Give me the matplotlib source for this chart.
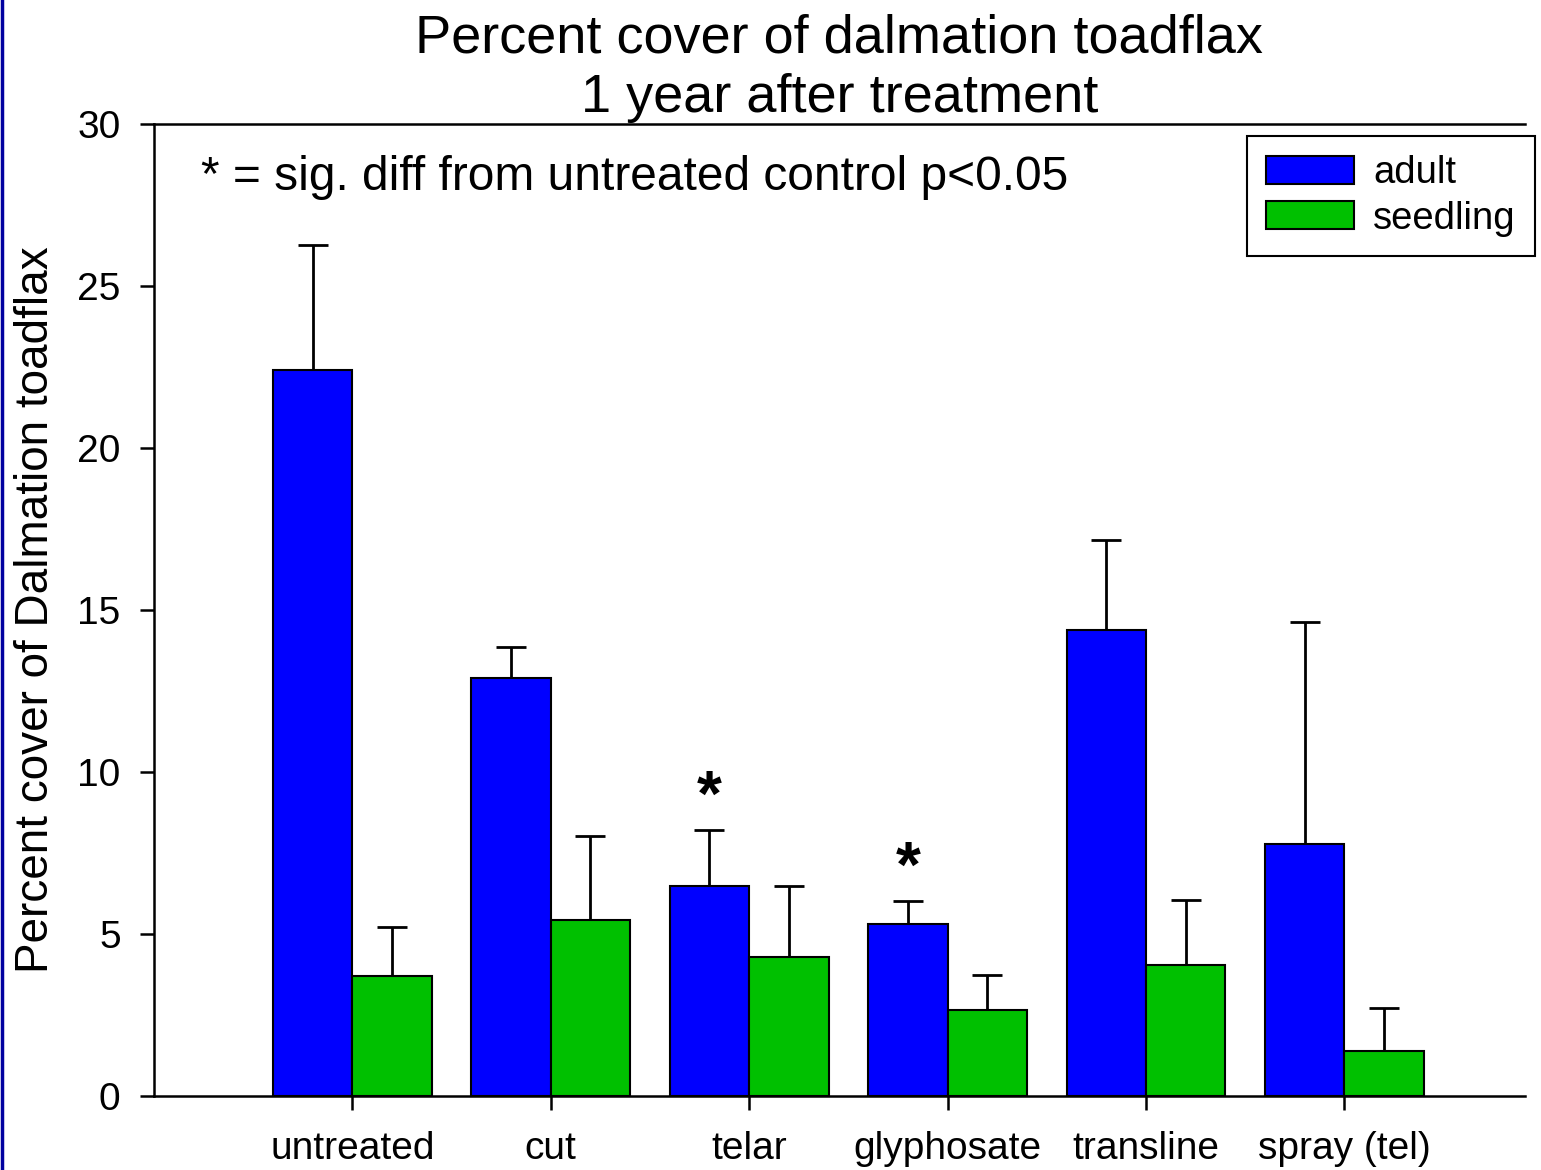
import numpy as np
import matplotlib
matplotlib.use("Agg")
import matplotlib.pyplot as plt
from matplotlib.lines import Line2D

plt.rcParams['font.family'] = ['Liberation Sans', 'DejaVu Sans']

treatments = ["untreated", "cut", "telar", "glyphosate", "transline", "spray (tel)"]
adult = [22.4, 12.9, 6.48, 5.31, 14.38, 7.78]
adult_err = [3.86, 0.95, 1.73, 0.71, 2.78, 6.85]
seedling = [3.70, 5.43, 4.29, 2.65, 4.04, 1.39]
seedling_err = [1.52, 2.59, 2.19, 1.08, 2.01, 1.33]
sig = ["telar", "glyphosate"]

fig = plt.figure(figsize=(15.41, 11.70), dpi=100)
ax = fig.add_axes([0.0999, 0.0632, 0.8897, 0.8308])

x = np.arange(len(treatments))
w = 0.4
ax.bar(x - w/2, adult, w, color='#0000ff', edgecolor='black', linewidth=1.5,
       label='adult', zorder=2)
ax.bar(x + w/2, seedling, w, color='#00c000', edgecolor='black', linewidth=1.5,
       label='seedling', zorder=2)
# upper error bars only
ax.errorbar(x - w/2, adult, yerr=[np.zeros(len(adult)), adult_err], fmt='none',
            ecolor='black', elinewidth=2, capsize=11, capthick=2, zorder=1)
ax.errorbar(x + w/2, seedling, yerr=[np.zeros(len(seedling)), seedling_err], fmt='none',
            ecolor='black', elinewidth=2, capsize=11, capthick=2, zorder=1)

for name in sig:
    i = treatments.index(name)
    ax.text(i - w/2, adult[i] + adult_err[i] + 0.95, '*', ha='center', va='center',
            fontsize=46, fontweight='bold')

ax.set_xlim(-1.0, 5.91)
ax.set_ylim(0, 30)
ax.set_yticks([0, 5, 10, 15, 20, 25, 30])
ax.set_xticks(x)
ax.set_xticklabels(treatments)
ax.tick_params(axis='y', labelsize=28, length=10, width=1.8, pad=14)
ax.tick_params(axis='x', labelsize=28, length=10, width=1.8, pad=15)
ax.spines['right'].set_visible(False)
for s in ['left', 'bottom', 'top']:
    ax.spines[s].set_linewidth(1.8)

ax.set_ylabel('Percent cover of Dalmation toadflax', fontsize=33, labelpad=14)
ax.set_title('Percent cover of dalmation toadflax\n1 year after treatment',
             fontsize=39, linespacing=1.24, pad=9, x=0.5)

ax.text(0.034, 0.945, '* = sig. diff from untreated control p<0.05', transform=ax.transAxes,
        fontsize=34.5, va='center', ha='left')

leg = ax.legend(loc='upper right', bbox_to_anchor=(1.0073, 0.9877), fontsize=27.5,
                fancybox=False, edgecolor='black', framealpha=1, borderaxespad=0,
                handlelength=2.3, handleheight=0.75, borderpad=0.5, labelspacing=0.25,
                handletextpad=0.5)
leg.get_frame().set_linewidth(1.5)

fig.add_artist(Line2D([0.001, 0.001], [0, 1], color='#0000a0', linewidth=2.5,
                      transform=fig.transFigure))

fig.savefig('out.png', dpi=100)
